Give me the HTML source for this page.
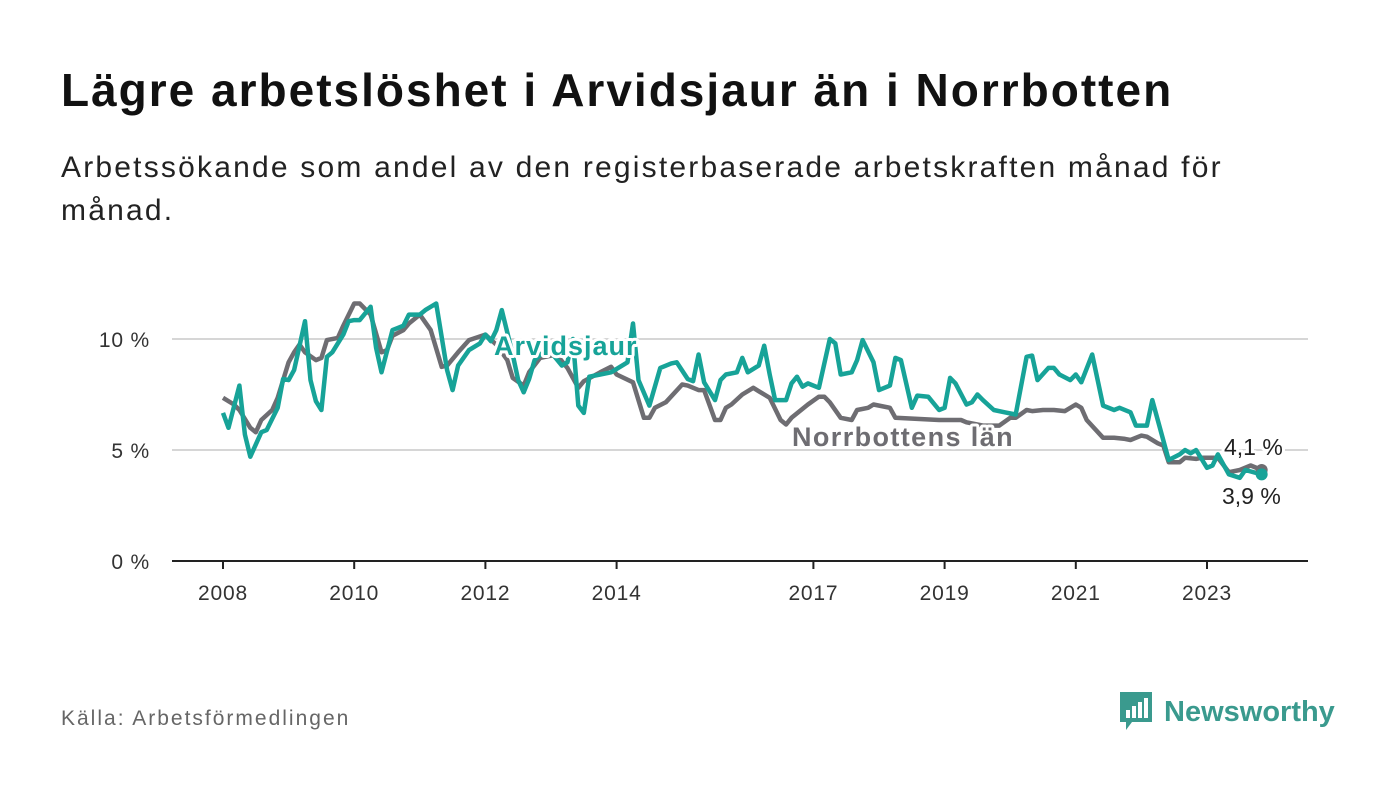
<!DOCTYPE html>
<html><head><meta charset="utf-8"><style>
body{margin:0;width:1400px;height:794px;background:#fff;font-family:"Liberation Sans",sans-serif;overflow:hidden;position:relative}
h1{position:absolute;left:61px;top:63px;margin:0;font-size:46px;font-weight:bold;color:#111;letter-spacing:2px}
.sub{position:absolute;left:61px;top:146px;margin:0;font-size:30px;line-height:43px;color:#222;width:1250px;letter-spacing:2.2px}
.src{position:absolute;left:61px;top:707px;font-size:21px;color:#666;letter-spacing:2px}
.logo{position:absolute;left:1118px;top:690px;display:flex;align-items:center}
.logo span{font-size:29px;font-weight:bold;color:#3a9a8e;margin-left:10px}
</style></head><body>
<h1>Lägre arbetslöshet i Arvidsjaur än i Norrbotten</h1>
<p class="sub">Arbetssökande som andel av den registerbaserade arbetskraften månad för månad.</p>
<svg id="chart" width="1400" height="794" style="position:absolute;left:0;top:0"></svg>
<div class="src">Källa: Arbetsförmedlingen</div>
<div class="logo">
<svg width="36" height="44" viewBox="0 0 36 44"><path d="M2 2h32v30H14l-6 8v-8H2z" fill="#3a9a8e"/><rect x="8" y="20" width="4" height="8" fill="#fff"/><rect x="14" y="16" width="4" height="12" fill="#fff"/><rect x="20" y="12" width="4" height="16" fill="#fff"/><rect x="26" y="8" width="4" height="20" fill="#fff"/></svg>
<span>Newsworthy</span></div>
<script>
const yTicks=[0,5,10];
const yTickLabels=["0 %","5 %","10 %"];
const xTickYears=[2008,2010,2012,2014,2017,2019,2021,2023];
const arvMonths=[0,1,3,4,5,7,8,10,11,12,13,15,16,17,18,19,20,22,23,24,25,27,28,29,31,32,33,34,36,37,39,41,42,43,45,47,48,49,50,51,53,54,55,56,57,59,60,62,63,64,65,66,67,69,71,74,75,76,78,80,82,83,85,86,87,88,90,91,92,94,95,96,98,99,100,101,103,104,105,106,107,109,111,112,113,115,116,117,119,120,122,123,124,126,127,129,131,132,133,134,136,137,138,139,141,143,145,147,148,149,151,152,153,155,156,157,159,161,163,164,166,167,169,170,173,175,176,177,178,180,181,182,184,186,187,190];
const arvValues=[6.67,6.0,7.9,5.7,4.7,5.8,5.9,6.9,8.2,8.15,8.6,10.8,8.15,7.2,6.8,9.2,9.4,10.2,10.8,10.85,10.85,11.45,9.6,8.5,10.4,10.5,10.6,11.1,11.1,11.3,11.6,8.6,7.7,8.8,9.5,9.8,10.2,9.9,10.4,11.3,9.3,8.15,7.6,8.2,9.05,9.5,9.4,8.8,8.95,10.0,7.0,6.67,8.3,8.4,8.5,8.95,10.7,8.15,7.0,8.7,8.9,8.95,8.2,8.1,9.3,8.05,7.25,8.15,8.4,8.5,9.15,8.5,8.8,9.7,8.4,7.25,7.25,8.0,8.3,7.85,8.0,7.8,10.0,9.8,8.4,8.5,9.05,9.95,8.95,7.7,7.9,9.15,9.05,6.9,7.45,7.4,6.8,6.9,8.25,8.0,7.05,7.15,7.5,7.25,6.8,6.7,6.6,9.2,9.25,8.15,8.7,8.7,8.4,8.15,8.4,8.05,9.3,7.0,6.8,6.9,6.7,6.1,6.1,7.25,4.55,4.8,5.0,4.85,5.0,4.2,4.3,4.8,3.9,3.75,4.1,3.9];
const norMonths=[0,2,3,5,6,7,9,10,12,13,14,15,17,18,19,21,22,24,25,27,29,30,31,33,34,36,38,40,41,43,45,48,50,52,53,55,56,58,61,63,65,66,69,71,72,75,77,78,79,81,84,85,87,88,90,91,92,93,95,97,98,100,102,103,104,107,109,110,111,113,115,116,118,119,122,123,131,133,135,136,139,142,144,145,147,148,150,152,154,156,157,158,161,163,165,166,168,169,171,172,173,175,176,178,179,182,184,186,188,190];
const norValues=[7.35,7.05,6.8,6.0,5.8,6.35,6.8,7.35,8.95,9.4,9.75,9.4,9.05,9.15,9.95,10.05,10.6,11.6,11.6,11.1,9.4,9.5,10.15,10.4,10.7,11.1,10.4,8.75,8.8,9.4,9.95,10.2,9.75,9.05,8.25,7.9,8.5,9.15,9.3,8.7,7.8,8.1,8.5,8.75,8.4,8.05,6.45,6.45,6.9,7.15,7.95,7.9,7.7,7.7,6.35,6.35,6.9,7.05,7.5,7.8,7.65,7.35,6.35,6.15,6.45,7.05,7.4,7.4,7.15,6.45,6.35,6.8,6.9,7.05,6.9,6.45,6.35,6.35,6.35,6.25,6.1,6.1,6.45,6.45,6.8,6.75,6.8,6.8,6.75,7.05,6.9,6.35,5.55,5.55,5.5,5.45,5.65,5.6,5.3,5.2,4.45,4.45,4.65,4.6,4.65,4.65,4.0,4.1,4.3,4.1];
const endLabels=["4,1 %","3,9 %"];

const NS="http://www.w3.org/2000/svg";
const svg=document.getElementById('chart');
const X0=223,PXY=65.6,Y0=561,PXV=22.2;
function xm(m){return X0+m*PXY/12;}
function xy(yr){return X0+(yr-2008)*PXY;}
function yv(v){return Y0-v*PXV;}
function mk(tag,attrs){const e=document.createElementNS(NS,tag);for(const k in attrs)e.setAttribute(k,attrs[k]);svg.appendChild(e);return e;}

yTicks.forEach((t,i)=>{
  if(t>0){const g=mk('line',{x1:172,x2:1308,y1:yv(t),y2:yv(t),stroke:'#d6d6d6','stroke-width':2});
  
  }
  const l=mk('text',{x:150,y:yv(t)+8,'text-anchor':'end','font-size':21,fill:'#333','letter-spacing':0.8,'font-family':'Liberation Sans, sans-serif'});
  l.textContent=yTickLabels[i];
  
  
});
const ax=mk('line',{x1:172,x2:1308,y1:Y0,y2:Y0,stroke:'#222','stroke-width':2});


xTickYears.forEach(yr=>{
  const t=mk('line',{x1:xy(yr),x2:xy(yr),y1:Y0,y2:Y0+8,stroke:'#222','stroke-width':2});
  
  
  const l=mk('text',{x:xy(yr),y:Y0+39,'text-anchor':'middle','font-size':21,fill:'#333','letter-spacing':0.8,'font-family':'Liberation Sans, sans-serif'});
  l.textContent=yr;
  
  
});
function pts(ms,vs){return ms.map((m,i)=>xm(m).toFixed(1)+','+yv(vs[i]).toFixed(1)).join(' ');}
const nl=mk('polyline',{points:pts(norMonths,norValues),fill:'none',stroke:'#6e6d72','stroke-width':4.5,'stroke-linejoin':'round'});


const al=mk('polyline',{points:pts(arvMonths,arvValues),fill:'none',stroke:'#17a398','stroke-width':4.5,'stroke-linejoin':'round'});


const nd=mk('circle',{cx:xm(norMonths[norMonths.length-1]),cy:yv(norValues[norValues.length-1]),r:6,fill:'#6e6d72'});


const ad=mk('circle',{cx:xm(arvMonths[arvMonths.length-1]),cy:yv(arvValues[arvValues.length-1]),r:6,fill:'#17a398'});


function lab(txt,x,y,fill,name,bold,size,ls){
  const t=mk('text',{x:x,y:y,'font-size':size,'font-weight':bold?'bold':'normal','letter-spacing':ls,fill:fill,stroke:'#fff','stroke-width':6,'paint-order':'stroke','stroke-linejoin':'round','font-family':'Liberation Sans, sans-serif'});
  t.textContent=txt;
  
  
}
lab('Arvidsjaur',494,355,'#17a398','arvidsjaur-label',true,27,1);
lab('Norrbottens län',792,446,'#6e6d72','norrbotten-label',true,27,1.4);
lab(endLabels[0],1224,455,'#222','norrbotten-end-label',false,23,0);
lab(endLabels[1],1222,504,'#222','arvidsjaur-end-label',false,23,0);
</script>
</body></html>
